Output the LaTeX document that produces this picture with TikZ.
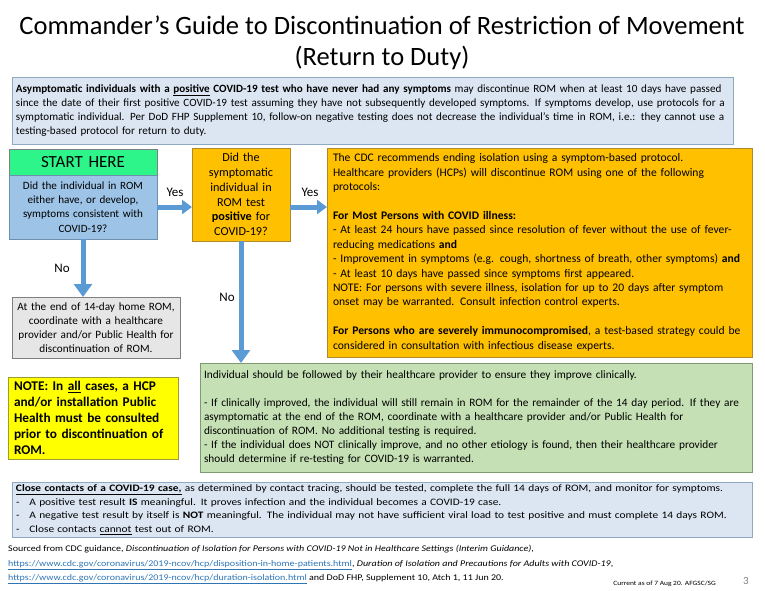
\documentclass[tikz,border=0pt]{standalone}
\usepackage{fontspec}
\setmainfont{Carlito}
\newfontfamily\widefont[FakeStretch=1.15]{Carlito}
\usetikzlibrary{arrows.meta,positioning}
\definecolor{Flow}{HTML}{5B9BD5}
\definecolor{PaleBlue}{HTML}{DCE6F2}
\definecolor{PaleEdge}{HTML}{8EA9C1}
\definecolor{StartGreen}{HTML}{2EF58A}
\definecolor{AskBlue}{HTML}{9DC3E6}
\definecolor{AskEdge}{HTML}{6F8FAF}
\definecolor{Amber}{HTML}{FFC000}
\definecolor{AmberEdge}{HTML}{B08A2A}
\definecolor{Stone}{HTML}{E7E6E6}
\definecolor{Sage}{HTML}{C5E0B4}
\definecolor{SageEdge}{HTML}{7F9A70}
\definecolor{Note}{HTML}{FFFF00}
\definecolor{NoteEdge}{HTML}{9C9C30}
\definecolor{Link}{HTML}{2E75B6}
\tikzset{
  box/.style={draw,line width=.8pt,inner sep=4pt,outer sep=0pt,anchor=north west},
  flow/.style={line width=5pt,draw=Flow,-{Triangle[length=13pt,width=18pt]}},
  sideflow/.style={flow,-{Triangle[length=10pt,width=14pt]}},
  tag/.style={font=\fontsize{13}{15}\selectfont}
}
\newcommand{\weblink}[1]{\textcolor{Link}{\underline{#1}}}
\begin{document}
\begin{tikzpicture}[x=1pt,y=-1pt,font=\fontsize{11}{14.2}\selectfont]
  \useasboundingbox (0,0) rectangle (765,591);
  % title
  \node[align=center,font=\fontsize{26.5}{31}\selectfont] (title) at (382,43)
    {Commander’s Guide to Discontinuation of Restriction of Movement\\(Return to Duty)};
  % top note
  \node[box,draw=PaleEdge,fill=PaleBlue,text width=713pt,minimum height=67pt,align=left,font=\fontsize{11.1}{14}\selectfont] (asym) at (12,77)
    {\textbf{Asymptomatic individuals with a \underline{positive} COVID-19 test who have never had any symptoms} may discontinue ROM when at least 10 days have passed\\
     since the date of their first positive COVID-19 test assuming they have not subsequently developed symptoms.  If symptoms develop, use protocols for a\\
     symptomatic individual.  Per DoD FHP Supplement 10, follow-on negative testing does not decrease the individual’s time in ROM, i.e.:  they cannot use a\\
     testing-based protocol for return to duty.};
  % flow boxes
  \node[box,draw=gray,fill=StartGreen,text width=140pt,minimum height=26pt,align=center,font=\fontsize{17}{18}\selectfont] (start) at (9,149) {START HERE};
  \node[box,draw=AskEdge,fill=AskBlue,text width=140pt,minimum height=64pt,align=center,anchor=north,below=0pt of start,font=\fontsize{11.1}{14.3}\selectfont] (ask)
    {Did the individual in ROM\\either have, or develop,\\symptoms consistent with\\COVID-19?};
  \node[box,draw=AmberEdge,fill=Amber,text width=90pt,minimum height=93pt,align=center,font=\fontsize{12.2}{14.8}\selectfont] (test) at (192,148)
    {Did the\\symptomatic\\individual in\\ROM test\\\textbf{positive} for\\COVID-19?};
  \node[box,draw=AmberEdge,fill=Amber,text width=413pt,inner xsep=6pt,minimum height=209pt,align=left,font=\fontsize{11.6}{14.4}\selectfont] (cdc) at (327,148)
    {The CDC recommends ending isolation using a symptom-based protocol.\\
     Healthcare providers (HCPs) will discontinue ROM using one of the following\\
     protocols:\\[14.4pt]
     \textbf{For Most Persons with COVID illness:}\\
     - At least 24 hours have passed since resolution of fever without the use of fever-\\
     reducing medications \textbf{and}\\
     - Improvement in symptoms (e.g. cough, shortness of breath, other symptoms) \textbf{and}\\
     - At least 10 days have passed since symptoms first appeared.\\
     NOTE:  For persons with severe illness, isolation for up to 20 days after symptom\\
     onset may be warranted.  Consult infection control experts.\\[14.4pt]
     \textbf{For Persons who are severely immunocompromised}, a test-based strategy could be\\
     considered in consultation with infectious disease experts.};
  \node[box,draw=gray,fill=Stone,text width=160pt,minimum height=61pt,align=center,font=\fontsize{11.2}{14}\selectfont] (home) at (12,297)
    {At the end of 14-day home ROM,\\coordinate with a healthcare\\provider and/or Public Health for\\discontinuation of ROM.};
  \node[box,draw=SageEdge,fill=Sage,text width=544pt,minimum height=109pt,align=left,font=\fontsize{11.3}{14}\selectfont] (care) at (200,363)
    {Individual should be followed by their healthcare provider to ensure they improve clinically.\\[14pt]
     - If clinically improved, the individual will still remain in ROM for the remainder of the 14 day period.  If they are\\
     asymptomatic at the end of the ROM, coordinate with a healthcare provider and/or Public Health for\\
     discontinuation of ROM.  No additional testing is required.\\
     - If the individual does NOT clinically improve, and no other etiology is found, then their healthcare provider\\
     should determine if re-testing for COVID-19 is warranted.};
  \node[box,draw=NoteEdge,fill=Note,text width=158pt,inner xsep=6pt,minimum height=82pt,align=left,font=\bfseries\fontsize{13.3}{16}\selectfont] (allcases) at (8,377)
    {NOTE:  In \underline{all} cases, a HCP\\and/or installation Public\\Health must be consulted\\prior to discontinuation of\\ROM.};
  \node[box,draw=PaleEdge,fill=PaleBlue,text width=732pt,minimum height=55pt,inner ysep=2pt,align=left,font=\widefont\fontsize{9.9}{13.8}\selectfont] (contacts) at (12,482)
    {\textbf{\underline{Close contacts of a COVID-19 case,}} as determined by contact tracing, should be tested, complete the full 14 days of ROM, and monitor for symptoms.\\
     -\quad A positive test result \textbf{IS} meaningful.  It proves infection and the individual becomes a COVID-19 case.\\
     -\quad A negative test result by itself is \textbf{NOT} meaningful.  The individual may not have sufficient viral load to test positive and must complete 14 days ROM.\\
     -\quad Close contacts \underline{cannot} test out of ROM.};
  % sources and footer
  \node[anchor=north west,align=left,inner sep=0pt,font=\widefont\fontsize{8.7}{14.5}\selectfont] (sources) at (8,545)
    {Sourced from CDC guidance, \textit{Discontinuation of Isolation for Persons with COVID-19 Not in Healthcare Settings (Interim Guidance)},\\
     \weblink{https://www.cdc.gov/coronavirus/2019-ncov/hcp/disposition-in-home-patients.html}, \textit{Duration of Isolation and Precautions for Adults with COVID-19},\\
     \weblink{https://www.cdc.gov/coronavirus/2019-ncov/hcp/duration-isolation.html} and DoD FHP, Supplement 10, Atch 1, 11 Jun 20.};
  \node[anchor=east,inner sep=0pt,font=\widefont\fontsize{6.5}{9}\selectfont] (current) at (716,584) {Current as of 7 Aug 20.  AFGSC/SG};
  \node[inner sep=0pt,text=gray,font=\fontsize{11}{12}\selectfont] (page) at (746,581) {3};
  % connectors
  \draw[sideflow] (ask.east) -- (ask.east -| test.west);
  \draw[sideflow] (ask.east -| test.east) -- (ask.east -| cdc.west);
  \draw[flow] (ask.south) -- (ask.south |- home.north);
  \draw[flow] (test.south) -- (test.south |- care.north);
  \node[tag] (yes1) at (175,192) {Yes};
  \node[tag] (yes2) at (310,192) {Yes};
  \node[tag] (no1) at (62,268) {No};
  \node[tag] (no2) at (227,297) {No};
\end{tikzpicture}
\end{document}
